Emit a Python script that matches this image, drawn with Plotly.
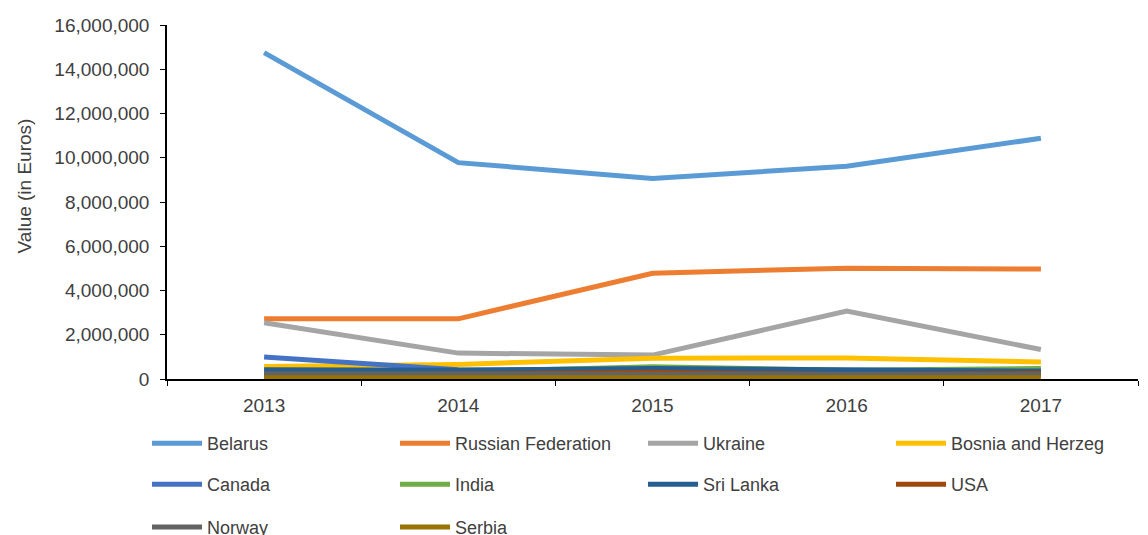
import plotly.graph_objects as go

years = ["2013", "2014", "2015", "2016", "2017"]

belarus = [14750000, 9780000, 9060000, 9620000, 10880000]
russia = [2720000, 2720000, 4780000, 5010000, 4970000]
ukraine = [2540000, 1170000, 1080000, 3070000, 1330000]
bosnia = [570000, 660000, 940000, 950000, 770000]
canada = [990000, 420000, 380000, 340000, 300000]
india = [300000, 320000, 550000, 400000, 470000]
sri_lanka = [420000, 400000, 470000, 400000, 360000]
usa = [150000, 220000, 300000, 200000, 260000]
norway = [240000, 220000, 200000, 220000, 200000]
serbia = [60000, 60000, 80000, 60000, 60000]

series = [
    ("Belarus", belarus, "#5B9BD5", "legend"),
    ("Russian Federation", russia, "#ED7D31", "legend"),
    ("Ukraine", ukraine, "#A5A5A5", "legend"),
    ("Bosnia and Herzeg", bosnia, "#FFC000", "legend"),
    ("Canada", canada, "#4472C4", "legend2"),
    ("India", india, "#70AD47", "legend2"),
    ("Sri Lanka", sri_lanka, "#255E91", "legend2"),
    ("USA", usa, "#9E480E", "legend2"),
    ("Norway", norway, "#636363", "legend3"),
    ("Serbia", serbia, "#997300", "legend3"),
]

fig = go.Figure()
for name, vals, color, lg in series:
    fig.add_trace(go.Scatter(
        x=years, y=vals, name=name, mode="lines",
        line=dict(color=color, width=5),
        legend=lg,
    ))

text_color = "#404040"
font_family = "Liberation Sans, Arial"
legend_common = dict(
    orientation="h", xanchor="left", yanchor="middle", x=-0.0206,
    entrywidth=183, entrywidthmode="pixels", itemwidth=50,
    font=dict(family=font_family, size=18, color=text_color),
    bgcolor="rgba(0,0,0,0)", traceorder="normal",
)

fig.update_layout(
    width=1140, height=527,
    margin=dict(l=159, r=10, t=17, b=156, autoexpand=False),
    paper_bgcolor="white", plot_bgcolor="white",
    font=dict(family=font_family, color=text_color),
    showlegend=True,
    legend=dict(legend_common, y=-0.182),
    legend2=dict(legend_common, y=-0.298),
    legend3=dict(legend_common, y=-0.419),
    xaxis=dict(
        type="category", range=[-0.5, 4.5],
        showline=True, linecolor="black", linewidth=1.5,
        ticks="outside", tickson="boundaries", ticklen=5, tickcolor="black",
        ticklabelstandoff=8,
        showgrid=False, zeroline=False,
        tickfont=dict(family=font_family, size=19, color=text_color),
    ),
    yaxis=dict(
        range=[0, 16000000], dtick=2000000, tickformat=",d",
        showline=True, linecolor="black", linewidth=1.5,
        ticks="outside", ticklen=5, tickcolor="black",
        ticklabelstandoff=7,
        showgrid=False, zeroline=False,
        tickfont=dict(family=font_family, size=19, color=text_color),
    ),
    annotations=[dict(
        text="Value (in Euros)", textangle=-90,
        xref="paper", yref="paper", x=(16 - 159) / 971, y=0.544,
        xanchor="center", yanchor="middle", showarrow=False,
        font=dict(family=font_family, size=19, color=text_color),
    )],
)

fig.write_html("out.html")
